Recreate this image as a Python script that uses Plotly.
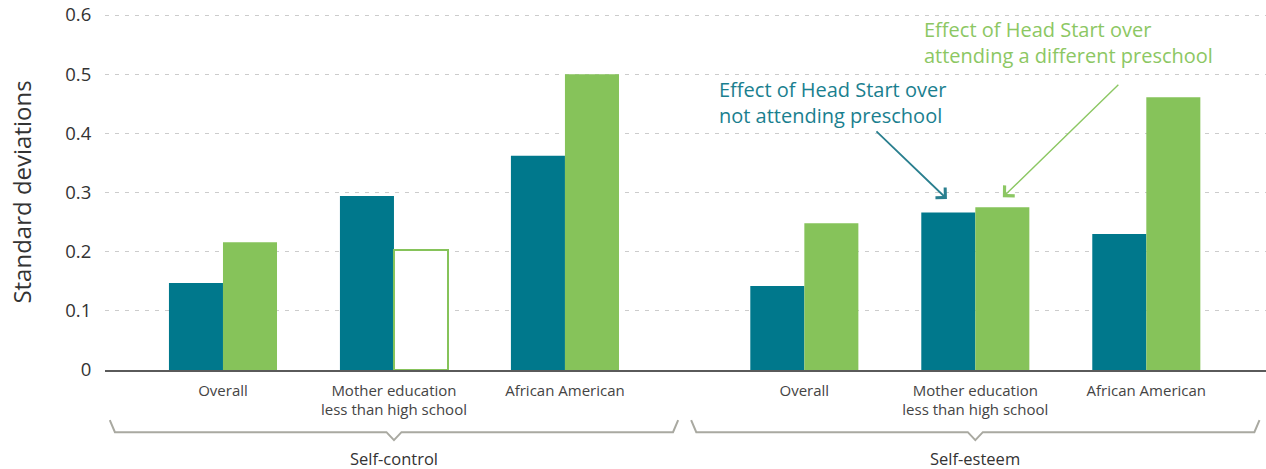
import plotly.graph_objects as go

# ---- data ----
categories = ["Overall", "Mother education<br>less than high school", "African American",
              "Overall", "Mother education<br>less than high school", "African American"]
positions = [0, 1, 2, 3.4, 4.4, 5.4]
groups = ["Self-control", "Self-esteem"]
group_centers = [1.0, 4.4]
no_preschool = [0.147, 0.294, 0.362, 0.142, 0.266, 0.230]
diff_preschool = [0.216, 0.203, 0.500, 0.248, 0.275, 0.461]
significant_diff = [True, False, True, True, True, True]
y_ticks = [0, 0.1, 0.2, 0.3, 0.4, 0.5, 0.6]

TEAL = "#00788c"
GREEN = "#86c35a"
FONT = "Open Sans"

fig = go.Figure()
fig.add_trace(go.Bar(x=positions, y=no_preschool, marker=dict(color=TEAL, line=dict(width=0)),
                     name="Effect of Head Start over not attending preschool", hoverinfo="skip"))
fig.add_trace(go.Bar(x=positions, y=diff_preschool,
                     marker=dict(color=[GREEN if s else "white" for s in significant_diff],
                                 line=dict(color=GREEN, width=[0 if s else 2 for s in significant_diff])),
                     name="Effect of Head Start over attending a different preschool", hoverinfo="skip"))

fig.update_layout(
    width=1266, height=469,
    margin=dict(l=105, r=0, t=14, b=99),
    plot_bgcolor="white", paper_bgcolor="white",
    barmode="group", bargap=0.368, bargroupgap=0,
    showlegend=False,
    font=dict(family=FONT, color="#333"),
)
fig.update_xaxes(range=[-0.69, 6.1], tickvals=positions, ticktext=categories,
                 tickfont=dict(size=15, color="#444"), ticks="outside", ticklen=6,
                 tickcolor="rgba(0,0,0,0)", showgrid=False, zeroline=False,
                 showline=True, linecolor="#5a5a5a", linewidth=1.5, fixedrange=True)
fig.update_yaxes(range=[0, 0.6017], tickvals=y_ticks, ticktext=[f"{v:g}" for v in y_ticks],
                 tickfont=dict(size=18.5, color="#333"), ticks="outside", ticklen=9,
                 tickcolor="rgba(0,0,0,0)",
                 showgrid=True, gridcolor="#cccccc", gridwidth=1, griddash="4px,6px",
                 zeroline=False, showline=False,
                 title=dict(text="Standard deviations", font=dict(size=24, color="#333"), standoff=26),
                 fixedrange=True)

# ---- group brackets ----
half_corner, half_tip, notch_w = 1.632, 1.662, 0.044
y_tip, y_h, y_notch = -0.141, -0.1746, -0.197
for g, c in zip(groups, group_centers):
    path = (f"M{c-half_tip},{y_tip} L{c-half_corner},{y_h} L{c-notch_w},{y_h} "
            f"L{c},{y_notch} L{c+notch_w},{y_h} L{c+half_corner},{y_h} L{c+half_tip},{y_tip}")
    fig.add_shape(type="path", path=path, xref="x", yref="paper",
                  line=dict(color="#a9a9a1", width=2))
    fig.add_annotation(x=c, y=-0.248, xref="x", yref="paper", text=g, showarrow=False,
                       font=dict(size=16.5, color="#333"), xanchor="center", yanchor="middle")

# ---- callouts ----
fig.add_annotation(x=2.89, y=0.452, xref="x", yref="y",
                   text="Effect of Head Start over<br>not attending preschool",
                   showarrow=False, xanchor="left", yanchor="middle", align="left",
                   font=dict(size=20, color="#1a7f8f"))
fig.add_annotation(x=4.234, y=0.289, xref="x", yref="y", text="", showarrow=True,
                   ax=-72, ay=-69, arrowhead=4, arrowsize=1.5, arrowwidth=1.8, arrowcolor="#2a7f8f")
fig.add_annotation(x=4.09, y=0.554, xref="x", yref="y",
                   text="Effect of Head Start over<br>attending a different preschool",
                   showarrow=False, xanchor="left", yanchor="middle", align="left",
                   font=dict(size=20, color="#8cc763"))
fig.add_annotation(x=4.561, y=0.292, xref="x", yref="y", text="", showarrow=True,
                   ax=117, ay=-114, arrowhead=4, arrowsize=2, arrowwidth=1.4, arrowcolor="#8cc763")

fig.write_html("out.html")
